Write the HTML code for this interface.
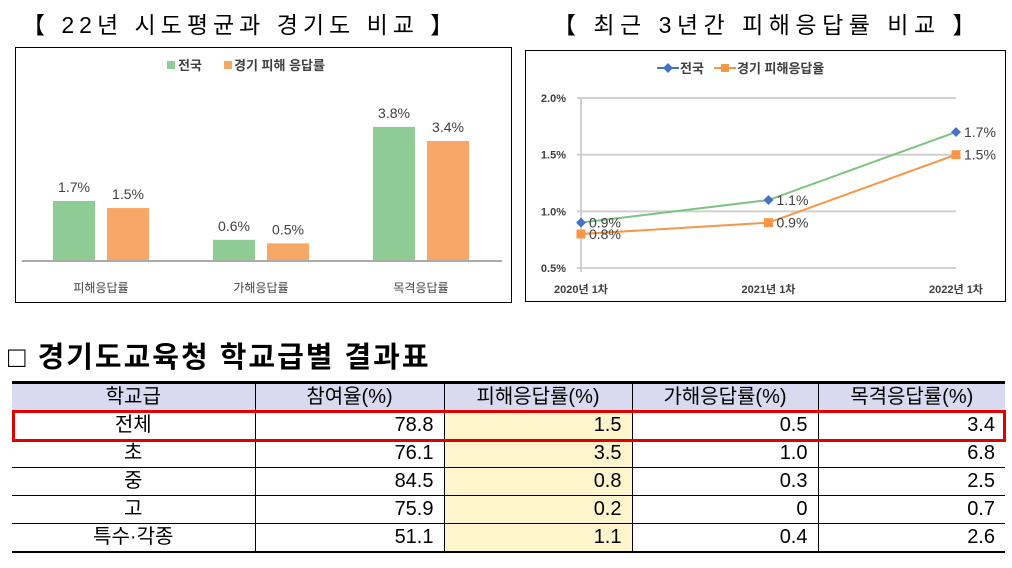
<!DOCTYPE html>
<html><head><meta charset="utf-8"><style>
body{margin:0;width:1012px;height:568px;background:#fff;font-family:"Liberation Sans","Noto Sans CJK KR",sans-serif;position:relative;overflow:hidden}
.t{position:absolute;white-space:nowrap}
table{position:absolute;left:12px;top:381px;width:993px;border-collapse:collapse;font-size:20px;table-layout:fixed}
td{height:27px;line-height:27px;padding:0 10px;border-left:1px solid #000;border-bottom:1px solid #000;text-align:right;overflow:hidden}
td:first-child{border-left:none;text-align:center}
tr.h td{background:#d9d9f0;text-align:center;border-top:3px solid #000;height:26px}
tr:last-child td{border-bottom:2px solid #000}
td.y{background:#fff5cc}
</style></head><body>
<div class="t" style="left:22px;top:6px;font-size:23px;letter-spacing:5px">【 22년 시도평균과 경기도 비교 】</div>
<div class="t" style="left:553px;top:6px;font-size:23px;letter-spacing:5.5px">【 최근 3년간 피해응답률 비교 】</div>
<svg id="bar" style="position:absolute;left:0;top:0" width="1012" height="320"></svg>
<div class="t" style="left:8px;top:334px;font-size:29px;font-weight:bold;letter-spacing:2px">□ 경기도교육청 학교급별 결과표</div>
<table>
<colgroup><col style="width:243px"><col style="width:189px"><col style="width:188px"><col style="width:186px"><col style="width:187px"></colgroup>
<tr class="h"><td>학교급</td><td>참여율(%)</td><td>피해응답률(%)</td><td>가해응답률(%)</td><td>목격응답률(%)</td></tr>
<tr><td>전체</td><td>78.8</td><td class="y">1.5</td><td>0.5</td><td>3.4</td></tr>
<tr><td>초</td><td>76.1</td><td class="y">3.5</td><td>1.0</td><td>6.8</td></tr>
<tr><td>중</td><td>84.5</td><td class="y">0.8</td><td>0.3</td><td>2.5</td></tr>
<tr><td>고</td><td>75.9</td><td class="y">0.2</td><td>0</td><td>0.7</td></tr>
<tr><td>특수·각종</td><td>51.1</td><td class="y">1.1</td><td>0.4</td><td>2.6</td></tr>
</table>
<div style="position:absolute;left:12px;top:410px;width:988px;height:26px;border:3px solid #e00000"></div>
<script>
const barCats=["피해응답률","가해응답률","목격응답률"];
const barNation=[1.7,0.6,3.8];
const barGyeonggi=[1.5,0.5,3.4];
const lineCats=["2020년 1차","2021년 1차","2022년 1차"];
const lineNation=[0.9,1.1,1.7];
const lineGyeonggi=[0.8,0.9,1.5];
const yTicks=[0.5,1.0,1.5,2.0];
const NS="http://www.w3.org/2000/svg";
const svg=document.getElementById('bar');
function mk(t,a,txt){const e=document.createElementNS(NS,t);for(const k in a)e.setAttribute(k,a[k]);if(txt!==undefined)e.textContent=txt;svg.appendChild(e);return e;}
const G="#8fcb94",O="#f7a866",GR="#7cc47f",OR="#f79646";
let e=mk('rect',{x:15.5,y:47.5,width:496,height:255,fill:'#fff',stroke:'#000'});

const by=v=>261-v*35.3;
const gx=i=>101+i*160;
barCats.forEach((c,i)=>{
 e=mk('rect',{x:gx(i)-48,y:by(barNation[i]),width:42,height:261-by(barNation[i]),fill:G});
 
 e=mk('rect',{x:gx(i)+6,y:by(barGyeonggi[i]),width:42,height:261-by(barGyeonggi[i]),fill:O});
 
 e=mk('text',{x:gx(i)-27,y:by(barNation[i])-9,'font-size':14,fill:'#404040','text-anchor':'middle'},barNation[i].toFixed(1)+'%');
 
 e=mk('text',{x:gx(i)+27,y:by(barGyeonggi[i])-9,'font-size':14,fill:'#404040','text-anchor':'middle'},barGyeonggi[i].toFixed(1)+'%');
 
 e=mk('text',{x:gx(i),y:292,'font-size':12,fill:'#404040','text-anchor':'middle'},c);
 
});
mk('line',{x1:22,x2:502,y1:261,y2:261,stroke:'#aaa','stroke-width':2});
mk('rect',{x:167,y:61,width:8,height:8,fill:G});
mk('rect',{x:224,y:61,width:8,height:8,fill:O});
e=mk('text',{x:178,y:70,'font-size':13,fill:'#404040','font-weight':'bold'},'전국');

e=mk('text',{x:234,y:70,'font-size':13,fill:'#404040','font-weight':'bold'},'경기 피해 응답률');

e=mk('rect',{x:525.5,y:50.5,width:480,height:251,fill:'#fff',stroke:'#000'});

const ly=v=>268-(v-0.5)*113.3;
const lx=i=>581+i*187.5;
yTicks.forEach(t=>{
 mk('line',{x1:577,x2:956,y1:ly(t),y2:ly(t),stroke:'#d0d0d0','stroke-width':2});
 e=mk('text',{x:566,y:ly(t)+4,'font-size':11,fill:'#404040','text-anchor':'end','font-weight':'bold'},t.toFixed(1)+'%');
 
});
mk('line',{x1:581,x2:581,y1:98,y2:272,stroke:'#d0d0d0','stroke-width':2});
lineCats.forEach((c,i)=>{e=mk('text',{x:lx(i),y:293,'font-size':11,fill:'#404040','text-anchor':'middle','font-weight':'bold'},c);
 });
e=mk('polyline',{points:lineNation.map((v,i)=>lx(i)+','+ly(v)).join(' '),fill:'none',stroke:GR,'stroke-width':2});

e=mk('polyline',{points:lineGyeonggi.map((v,i)=>lx(i)+','+ly(v)).join(' '),fill:'none',stroke:OR,'stroke-width':2});

lineNation.forEach((v,i)=>{
 e=mk('rect',{x:lx(i)-3.5,y:ly(v)-3.5,width:7,height:7,fill:'#4472c4',transform:`rotate(45 ${lx(i)} ${ly(v)})`});
 
 e=mk('text',{x:lx(i)+8,y:ly(v)+5,'font-size':14,fill:'#404040'},v.toFixed(1)+'%');
 
});
lineGyeonggi.forEach((v,i)=>{
 e=mk('rect',{x:lx(i)-4.5,y:ly(v)-4.5,width:9,height:9,fill:OR});
 
 e=mk('text',{x:lx(i)+8,y:ly(v)+5,'font-size':14,fill:'#404040'},v.toFixed(1)+'%');
 
});
mk('line',{x1:657,x2:679,y1:68,y2:68,stroke:'#4472c4','stroke-width':2});
mk('rect',{x:664.5,y:64.5,width:7,height:7,fill:'#4472c4',transform:'rotate(45 668 68)'});
mk('line',{x1:714,x2:736,y1:68,y2:68,stroke:OR,'stroke-width':2});
mk('rect',{x:721,y:64,width:8,height:8,fill:OR});
e=mk('text',{x:680,y:73,'font-size':13,fill:'#404040','font-weight':'bold'},'전국');

e=mk('text',{x:737,y:73,'font-size':13,fill:'#404040','font-weight':'bold'},'경기 피해응답율');

</script>
</body></html>
